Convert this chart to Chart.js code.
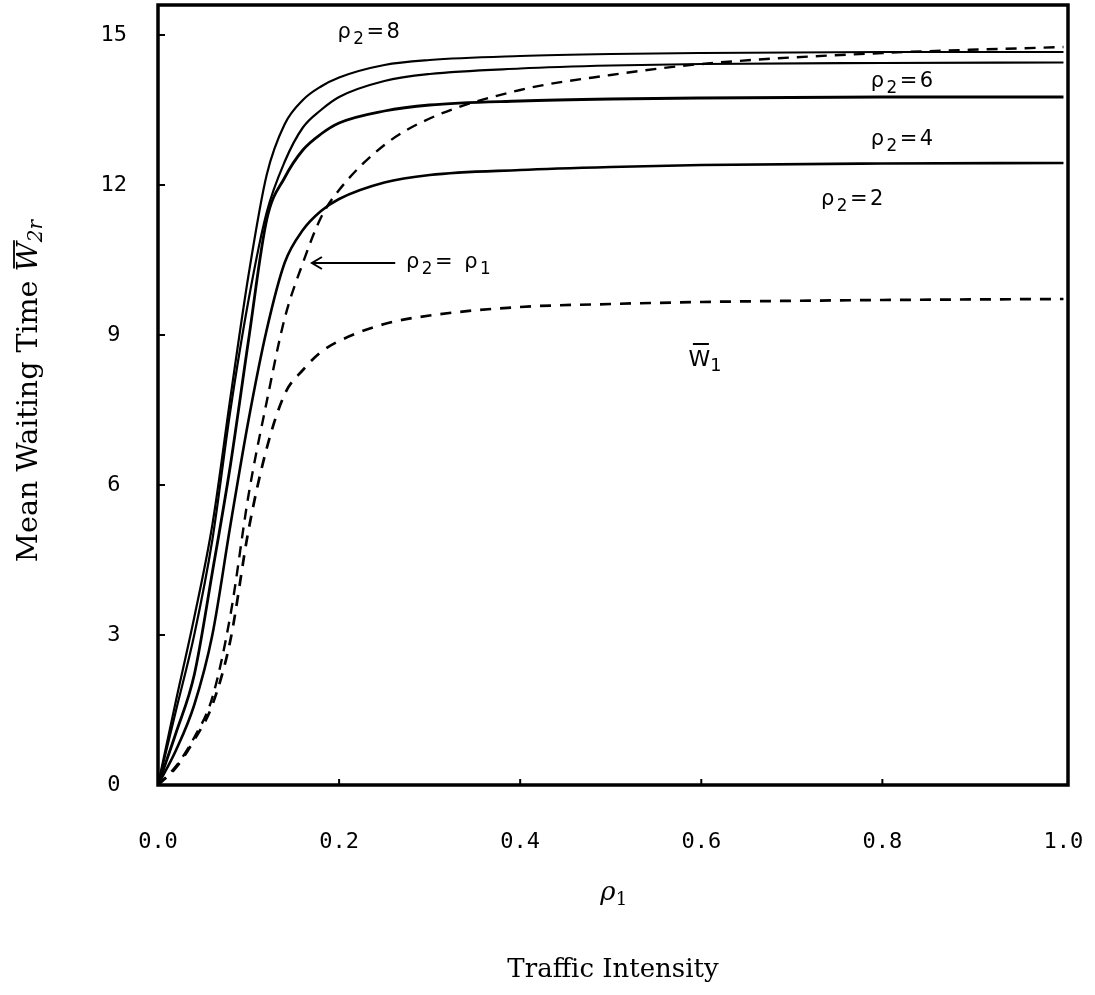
<!DOCTYPE html>
<html>
<head>
<meta charset="utf-8">
<script src="https://cdn.jsdelivr.net/npm/chart.js@4.4.0/dist/chart.umd.min.js"></script>
<style>
    html, body { margin: 0; padding: 0; background: #fff; }
</style>
</head>
<body>
<canvas id="wykres" width="1095" height="995"></canvas>
<script>
// traffic intensity rho1 (x) and mean waiting time curves (y)
const rho1 = [0, 0.02, 0.04, 0.06, 0.08, 0.10, 0.12, 0.14, 0.16, 0.18, 0.20, 0.25, 0.30, 0.40, 0.50, 0.60, 0.80, 1.00];
const w2rRho8 = [0, 1.7, 3.35, 5.2, 7.75, 10.2, 12.2, 13.22, 13.7, 13.97, 14.15, 14.4, 14.5, 14.58, 14.62, 14.64, 14.66, 14.66];
const w2rRho6 = [0, 1.5, 3.0, 4.9, 7.5, 9.7, 11.45, 12.47, 13.15, 13.5, 13.76, 14.08, 14.22, 14.33, 14.39, 14.42, 14.44, 14.45];
const w2rRho4 = [0, 1.05, 2.2, 4.25, 6.4, 8.9, 11.3, 12.15, 12.7, 13.02, 13.24, 13.48, 13.6, 13.68, 13.72, 13.74, 13.76, 13.76];
const w2rRho2 = [0, 0.7, 1.6, 3.0, 5.2, 7.3, 9.1, 10.45, 11.1, 11.48, 11.72, 12.05, 12.2, 12.3, 12.36, 12.4, 12.43, 12.44];
const w2rEqual = [0, 0.38, 0.95, 1.75, 3.4, 5.8, 7.66, 9.34, 10.44, 11.35, 11.9, 12.8, 13.33, 13.9, 14.2, 14.42, 14.64, 14.76];
const w1 = [0, 0.35, 0.9, 1.6, 2.9, 5.1, 6.73, 7.82, 8.3, 8.66, 8.88, 9.22, 9.39, 9.56, 9.62, 9.66, 9.7, 9.72];

const xTicks = [0, 0.2, 0.4, 0.6, 0.8, 1.0];
const yTicks = [0, 3, 6, 9, 12, 15];

// curve labels: [x, y] in data units, text parts (1 = subscript)
const curveLabels = [
    { at: [0.234, 15.04], parts: [['ρ', 0], ['2', 1], ['=8', 0]] },
    { at: [0.823, 14.06], parts: [['ρ', 0], ['2', 1], ['=6', 0]] },
    { at: [0.823, 12.9], parts: [['ρ', 0], ['2', 1], ['=4', 0]] },
    { at: [0.768, 11.7], parts: [['ρ', 0], ['2', 1], ['=2', 0]] },
    { at: [0.322, 10.44], parts: [['ρ', 0], ['2', 1], ['= ρ', 0], ['1', 1]] }
];
const arrowFrom = [0.262, 10.44];
const arrowTo = [0.170, 10.44];
const w1Label = [0.604, 8.5];

function pts(ys) {
    return rho1.map((x, i) => ({ x: x, y: ys[i] }));
}

function drawParts(ctx, parts, cx, cy, size, family, spacing) {
    let widths = [];
    let total = 0;
    parts.forEach(p => {
        ctx.font = (p[1] ? size * 0.8 : size) + 'px ' + family;
        let w = 0;
        for (const ch of p[0]) w += ctx.measureText(ch).width + spacing;
        widths.push(w);
        total += w;
    });
    let x = cx - total / 2;
    ctx.textAlign = 'left';
    ctx.textBaseline = 'middle';
    parts.forEach((p, i) => {
        ctx.font = (p[1] ? size * 0.8 : size) + 'px ' + family;
        let xx = x;
        for (const ch of p[0]) {
            ctx.fillText(ch, xx, cy + (p[1] ? size * 0.3 : 0));
            xx += ctx.measureText(ch).width + spacing;
        }
        x += widths[i];
    });
}

const extras = {
    id: 'extras',
    afterDraw(chart) {
        const ctx = chart.ctx;
        const a = chart.chartArea;
        const sx = chart.scales.x;
        const sy = chart.scales.y;
        ctx.save();
        ctx.strokeStyle = '#000';
        ctx.fillStyle = '#000';

        // frame
        ctx.lineWidth = 3.5;
        ctx.strokeRect(a.left, a.top, a.right - a.left, a.bottom - a.top);

        // inward ticks
        ctx.lineWidth = 2;
        ctx.beginPath();
        yTicks.slice(1).forEach(v => {
            const y = sy.getPixelForValue(v);
            ctx.moveTo(a.left, y);
            ctx.lineTo(a.left + 7, y);
        });
        xTicks.slice(1, -1).forEach(v => {
            const x = sx.getPixelForValue(v);
            ctx.moveTo(x, a.bottom);
            ctx.lineTo(x, a.bottom - 6);
        });
        ctx.stroke();

        // curve labels
        curveLabels.forEach(l => {
            drawParts(ctx, l.parts, sx.getPixelForValue(l.at[0]), sy.getPixelForValue(l.at[1]), 21, '"DejaVu Sans"', 2.5);
        });

        // arrow
        const ax0 = sx.getPixelForValue(arrowFrom[0]);
        const ax1 = sx.getPixelForValue(arrowTo[0]);
        const ay = sy.getPixelForValue(arrowFrom[1]);
        ctx.lineWidth = 2;
        ctx.beginPath();
        ctx.moveTo(ax0, ay);
        ctx.lineTo(ax1, ay);
        ctx.moveTo(ax1 + 10, ay - 6);
        ctx.lineTo(ax1, ay);
        ctx.lineTo(ax1 + 10, ay + 6);
        ctx.stroke();

        // W1 label with overbar
        const wx = sx.getPixelForValue(w1Label[0]);
        const wy = sy.getPixelForValue(w1Label[1]);
        drawParts(ctx, [['W', 0], ['1', 1]], wx, wy, 22, '"DejaVu Sans"', 0);
        ctx.lineWidth = 2;
        ctx.beginPath();
        ctx.moveTo(wx - 12, wy - 16);
        ctx.lineTo(wx + 4, wy - 16);
        ctx.stroke();

        // x titles
        const mid = (a.left + a.right) / 2;
        ctx.textBaseline = 'middle';
        ctx.textAlign = 'left';
        ctx.font = 'italic 26px "DejaVu Serif"';
        const rw = ctx.measureText('ρ').width;
        ctx.fillText('ρ', mid - (rw + 10) / 2, 893);
        ctx.font = '18px "DejaVu Serif"';
        ctx.fillText('1', mid - (rw + 10) / 2 + rw, 900);
        ctx.textAlign = 'center';
        ctx.font = '26px "DejaVu Serif"';
        ctx.fillText('Traffic Intensity', mid, 970);

        // y title, rotated
        ctx.translate(30, 391);
        ctx.rotate(-Math.PI / 2);
        ctx.font = '28.5px "DejaVu Serif"';
        const t1 = 'Mean Waiting Time ';
        const w1w = ctx.measureText(t1).width;
        ctx.font = 'italic 28.5px "DejaVu Serif"';
        const ww = ctx.measureText('W').width;
        ctx.font = 'italic 20px "DejaVu Serif"';
        const sw = ctx.measureText('2r').width;
        let x0 = -(w1w + ww + sw) / 2;
        ctx.textAlign = 'left';
        ctx.font = '28.5px "DejaVu Serif"';
        ctx.fillText(t1, x0, 0);
        ctx.font = 'italic 28.5px "DejaVu Serif"';
        ctx.fillText('W', x0 + w1w, 0);
        ctx.font = 'italic 20px "DejaVu Serif"';
        ctx.fillText('2r', x0 + w1w + ww, 7);
        ctx.lineWidth = 1.8;
        ctx.beginPath();
        ctx.moveTo(x0 + w1w + 3, -16);
        ctx.lineTo(x0 + w1w + ww + 2, -16);
        ctx.stroke();

        ctx.restore();
    }
};

const ctx = document.getElementById('wykres').getContext('2d');
const chart = new Chart(ctx, {
    type: 'line',
    data: {
        datasets: [
            { label: 'rho2=8', data: pts(w2rRho8), borderColor: '#000', borderWidth: 2.2, pointRadius: 0, cubicInterpolationMode: 'monotone' },
            { label: 'rho2=6', data: pts(w2rRho6), borderColor: '#000', borderWidth: 2.2, pointRadius: 0, cubicInterpolationMode: 'monotone' },
            { label: 'rho2=4', data: pts(w2rRho4), borderColor: '#000', borderWidth: 2.8, pointRadius: 0, cubicInterpolationMode: 'monotone' },
            { label: 'rho2=2', data: pts(w2rRho2), borderColor: '#000', borderWidth: 2.6, pointRadius: 0, cubicInterpolationMode: 'monotone' },
            { label: 'rho2=rho1', data: pts(w2rEqual), borderColor: '#000', borderWidth: 2.4, borderDash: [11, 8], pointRadius: 0, cubicInterpolationMode: 'monotone' },
            { label: 'W1', data: pts(w1), borderColor: '#000', borderWidth: 2.7, borderDash: [11, 9], pointRadius: 0, cubicInterpolationMode: 'monotone' }
        ]
    },
    options: {
        responsive: false,
        animation: false,
        devicePixelRatio: 1,
        layout: { padding: { left: 0, top: 5, right: 27, bottom: 0 } },
        plugins: {
            legend: { display: false },
            tooltip: { enabled: false }
        },
        scales: {
            x: {
                type: 'linear',
                min: 0,
                max: 1.005,
                afterFit: s => { s.height = 210; s.paddingLeft = 0; s.paddingRight = 0; },
                afterBuildTicks: s => { s.ticks = xTicks.map(v => ({ value: v })); },
                grid: { display: false, drawTicks: false, tickLength: 0 },
                border: { display: false },
                ticks: {
                    callback: v => v.toFixed(1),
                    font: { family: '"DejaVu Sans Mono"', size: 22 },
                    color: '#000',
                    padding: 44,
                    maxRotation: 0,
                    autoSkip: false
                }
            },
            y: {
                type: 'linear',
                min: 0,
                max: 15.6,
                afterFit: s => { s.width = 158; s.paddingTop = 0; s.paddingBottom = 0; },
                afterBuildTicks: s => { s.ticks = yTicks.map(v => ({ value: v })); },
                grid: { display: false, drawTicks: false, tickLength: 0 },
                border: { display: false },
                ticks: {
                    font: { family: '"DejaVu Sans Mono"', size: 22 },
                    color: '#000',
                    crossAlign: 'center',
                    padding: 31
                }
            }
        }
    },
    plugins: [extras]
});
</script>
</body>
</html>
